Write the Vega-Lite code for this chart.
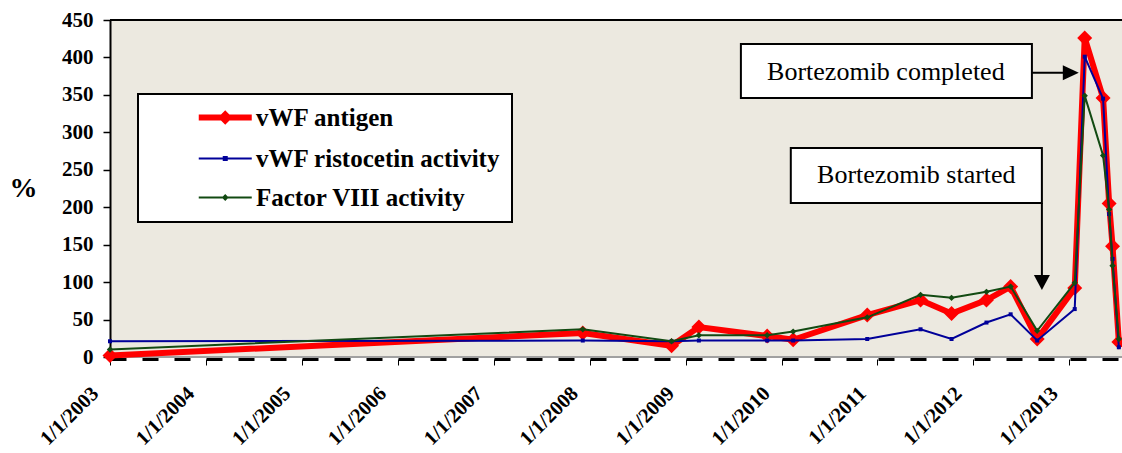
{
  "$schema": "https://vega.github.io/schema/vega-lite/v6.json",
  "width": 1012,
  "height": 337,
  "autosize": "none",
  "padding": {"left": 110, "top": 20, "right": 0, "bottom": 96},
  "background": "white",
  "config": {
    "font": "Liberation Serif",
    "view": {"fill": "#ECE9E0", "stroke": null},
    "axis": {
      "labelFont": "Liberation Serif", "labelFontSize": 21, "labelFontWeight": "bold", "labelColor": "black",
      "titleFont": "Liberation Serif", "titleFontWeight": "bold", "titleColor": "black",
      "tickColor": "black", "domainColor": "black", "grid": false,
      "labelOverlap": false, "labelBound": false, "labelFlush": false
    },
    "axisX": {
      "labelFontSize": 20.5,
      "labelAngle": -45, "labelAlign": "right", "labelBaseline": "middle",
      "labelPadding": 25, "labelOffset": -15,
      "tickSize": 6, "tickWidth": 1,
      "domainWidth": 3, "domainDash": [16, 16], "offset": 2
    },
    "axisY": {
      "titleAngle": 0, "titleFontSize": 28, "titleX": -87, "titleY": 168, "titleAlign": "center", "titleBaseline": "middle",
      "tickCount": 10, "labelPadding": 10, "tickSize": 7, "tickWidth": 1.5, "domainWidth": 2
    }
  },
  "datasets": {
    "series": [
      {"date": "2003-01-01", "series": "vWF antigen", "value": 2},
      {"date": "2007-12-06", "series": "vWF antigen", "value": 32},
      {"date": "2008-11-08", "series": "vWF antigen", "value": 15},
      {"date": "2009-02-20", "series": "vWF antigen", "value": 40},
      {"date": "2009-11-07", "series": "vWF antigen", "value": 28},
      {"date": "2010-02-14", "series": "vWF antigen", "value": 23},
      {"date": "2010-11-23", "series": "vWF antigen", "value": 56},
      {"date": "2011-06-14", "series": "vWF antigen", "value": 76},
      {"date": "2011-10-10", "series": "vWF antigen", "value": 58},
      {"date": "2012-02-20", "series": "vWF antigen", "value": 76},
      {"date": "2012-05-22", "series": "vWF antigen", "value": 94},
      {"date": "2012-08-31", "series": "vWF antigen", "value": 24},
      {"date": "2013-01-21", "series": "vWF antigen", "value": 92},
      {"date": "2013-02-28", "series": "vWF antigen", "value": 426},
      {"date": "2013-05-09", "series": "vWF antigen", "value": 346},
      {"date": "2013-06-01", "series": "vWF antigen", "value": 205},
      {"date": "2013-06-14", "series": "vWF antigen", "value": 148},
      {"date": "2013-07-08", "series": "vWF antigen", "value": 20},
      {"date": "2003-01-01", "series": "vWF ristocetin activity", "value": 21},
      {"date": "2007-12-06", "series": "vWF ristocetin activity", "value": 22},
      {"date": "2008-11-08", "series": "vWF ristocetin activity", "value": 21},
      {"date": "2009-02-20", "series": "vWF ristocetin activity", "value": 22},
      {"date": "2009-11-07", "series": "vWF ristocetin activity", "value": 22},
      {"date": "2010-02-14", "series": "vWF ristocetin activity", "value": 22},
      {"date": "2010-11-23", "series": "vWF ristocetin activity", "value": 24},
      {"date": "2011-06-14", "series": "vWF ristocetin activity", "value": 37},
      {"date": "2011-10-10", "series": "vWF ristocetin activity", "value": 24},
      {"date": "2012-02-20", "series": "vWF ristocetin activity", "value": 46},
      {"date": "2012-05-22", "series": "vWF ristocetin activity", "value": 57},
      {"date": "2012-08-31", "series": "vWF ristocetin activity", "value": 22},
      {"date": "2013-01-21", "series": "vWF ristocetin activity", "value": 64},
      {"date": "2013-02-28", "series": "vWF ristocetin activity", "value": 401},
      {"date": "2013-05-09", "series": "vWF ristocetin activity", "value": 345},
      {"date": "2013-06-01", "series": "vWF ristocetin activity", "value": 191},
      {"date": "2013-06-14", "series": "vWF ristocetin activity", "value": 131},
      {"date": "2013-07-08", "series": "vWF ristocetin activity", "value": 13},
      {"date": "2003-01-01", "series": "Factor VIII activity", "value": 10},
      {"date": "2007-12-06", "series": "Factor VIII activity", "value": 37},
      {"date": "2008-11-08", "series": "Factor VIII activity", "value": 21},
      {"date": "2009-02-20", "series": "Factor VIII activity", "value": 29},
      {"date": "2009-11-07", "series": "Factor VIII activity", "value": 29},
      {"date": "2010-02-14", "series": "Factor VIII activity", "value": 34},
      {"date": "2010-11-23", "series": "Factor VIII activity", "value": 53},
      {"date": "2011-06-14", "series": "Factor VIII activity", "value": 83},
      {"date": "2011-10-10", "series": "Factor VIII activity", "value": 79},
      {"date": "2012-02-20", "series": "Factor VIII activity", "value": 87},
      {"date": "2012-05-22", "series": "Factor VIII activity", "value": 94},
      {"date": "2012-08-31", "series": "Factor VIII activity", "value": 35},
      {"date": "2013-01-21", "series": "Factor VIII activity", "value": 99},
      {"date": "2013-02-28", "series": "Factor VIII activity", "value": 349},
      {"date": "2013-05-09", "series": "Factor VIII activity", "value": 269},
      {"date": "2013-06-01", "series": "Factor VIII activity", "value": 197},
      {"date": "2013-06-14", "series": "Factor VIII activity", "value": 122},
      {"date": "2013-07-08", "series": "Factor VIII activity", "value": 24}
    ],
    "boxes": [
      {"date": "2009-07-30", "date2": "2012-08-11", "value": 418, "value2": 346, "label": "Bortezomib completed", "tdate": "2011-02-02", "tvalue": 381},
      {"date": "2010-02-05", "date2": "2012-09-18", "value": 279, "value2": 205.6, "label": "Bortezomib started", "tdate": "2011-05-29", "tvalue": 242.4}
    ],
    "arrows": [
      {"date": "2012-08-11", "date2": "2013-01-06", "value": 379.6, "value2": 379.6},
      {"date": "2012-09-18", "date2": "2012-09-18", "value": 205.6, "value2": 99.5}
    ]
  },
  "data": {"name": "series"},
  "layer": [
    {
      "mark": {"type": "rule", "color": "#A0A0A0", "strokeWidth": 1},
      "encoding": {"y": {"datum": 0, "type": "quantitative"}}
    },
    {
      "mark": {"type": "rule", "color": "black", "strokeWidth": 2},
      "encoding": {"y": {"datum": 450, "type": "quantitative"}}
    },
    {
      "transform": [{"filter": "datum.series === 'vWF antigen'"}],
      "mark": {"type": "line", "strokeWidth": 6, "point": {"filled": true, "shape": "diamond", "size": 225}},
      "encoding": {
        "x": {
          "field": "date", "type": "temporal",
          "scale": {"domain": [{"year": 2003, "month": 1, "date": 1}, {"year": 2013, "month": 7, "date": 20}]},
          "axis": {"title": null, "format": "%-m/%-d/%Y", "tickCount": {"interval": "year", "step": 1}}
        },
        "y": {
          "field": "value", "type": "quantitative",
          "scale": {"domain": [0, 450], "nice": false},
          "axis": {"title": "%", "values": [0, 50, 100, 150, 200, 250, 300, 350, 400, 450]}
        },
        "color": {
          "field": "series", "type": "nominal",
          "scale": {"domain": ["vWF antigen", "vWF ristocetin activity", "Factor VIII activity"], "range": ["#FF0000", "#000099", "#124A12"]},
          "legend": {
            "title": null, "orient": "none", "legendX": 28, "legendY": 74, "direction": "vertical",
            "fillColor": "#FFFFFF", "strokeColor": "#000000", "padding": 11,
            "labelFont": "Liberation Serif", "labelFontSize": 25, "labelFontWeight": "bold", "labelColor": "black",
            "labelOffset": 82, "labelLimit": 400, "rowPadding": 13,
            "symbolSize": 400, "symbolType": "M3.725,0H9.025",
            "encode": {
              "legend": {"update": {"strokeWidth": {"value": 2}}},
              "symbols": {"update": {
                "shape": {"signal": "datum.value === 'vWF antigen' ? 'M3.725,0H9.025M6.375,-0.3L6.675,0L6.375,0.3L6.075,0Z' : datum.value === 'vWF ristocetin activity' ? 'M3.725,0H9.025M6.225,-0.15H6.525V0.15H6.225Z' : 'M3.725,0H9.025M6.375,-0.2L6.575,0L6.375,0.2L6.175,0Z'"},
                "strokeWidth": {"signal": "datum.value === 'vWF antigen' ? 6 : 2"},
                "stroke": {"signal": "datum.value === 'vWF antigen' ? '#FF0000' : datum.value === 'vWF ristocetin activity' ? '#000099' : '#124A12'"},
                "fill": {"signal": "datum.value === 'vWF antigen' ? '#FF0000' : datum.value === 'vWF ristocetin activity' ? '#000099' : '#124A12'"},
                "opacity": {"value": 1}
              }}
            }
          }
        }
      }
    },
    {
      "transform": [{"filter": "datum.series === 'vWF ristocetin activity'"}],
      "mark": {"type": "line", "strokeWidth": 2, "point": {"filled": true, "shape": "square", "size": 16}},
      "encoding": {
        "x": {"field": "date", "type": "temporal"},
        "y": {"field": "value", "type": "quantitative"},
        "color": {"field": "series", "type": "nominal"}
      }
    },
    {
      "transform": [{"filter": "datum.series === 'Factor VIII activity'"}],
      "mark": {"type": "line", "strokeWidth": 2, "point": {"filled": true, "shape": "diamond", "size": 40}},
      "encoding": {
        "x": {"field": "date", "type": "temporal"},
        "y": {"field": "value", "type": "quantitative"},
        "color": {"field": "series", "type": "nominal"}
      }
    },
    {
      "data": {"name": "arrows"},
      "mark": {"type": "rule", "color": "black", "strokeWidth": 2},
      "encoding": {
        "x": {"field": "date", "type": "temporal"},
        "x2": {"field": "date2"},
        "y": {"field": "value", "type": "quantitative"},
        "y2": {"field": "value2"}
      }
    },
    {
      "data": {"values": [{"date": "2013-01-06", "value": 379.6}]},
      "mark": {"type": "point", "shape": "M-1,-0.94L1,0L-1,0.94Z", "filled": true, "color": "black", "size": 256, "opacity": 1},
      "encoding": {
        "x": {"field": "date", "type": "temporal"},
        "y": {"field": "value", "type": "quantitative"}
      }
    },
    {
      "data": {"values": [{"date": "2012-09-18", "value": 99.5}]},
      "mark": {"type": "point", "shape": "M-1,-0.94L1,-0.94L0,0.94Z", "filled": true, "color": "black", "size": 256, "opacity": 1},
      "encoding": {
        "x": {"field": "date", "type": "temporal"},
        "y": {"field": "value", "type": "quantitative"}
      }
    },
    {
      "data": {"name": "boxes"},
      "mark": {"type": "rect", "fill": "white", "stroke": "black", "strokeWidth": 2},
      "encoding": {
        "x": {"field": "date", "type": "temporal"},
        "x2": {"field": "date2"},
        "y": {"field": "value", "type": "quantitative"},
        "y2": {"field": "value2"}
      }
    },
    {
      "data": {"name": "boxes"},
      "mark": {"type": "text", "font": "Liberation Serif", "fontSize": 26, "color": "black", "align": "center", "baseline": "middle"},
      "encoding": {
        "x": {"field": "tdate", "type": "temporal"},
        "y": {"field": "tvalue", "type": "quantitative"},
        "text": {"field": "label", "type": "nominal"}
      }
    }
  ]
}
